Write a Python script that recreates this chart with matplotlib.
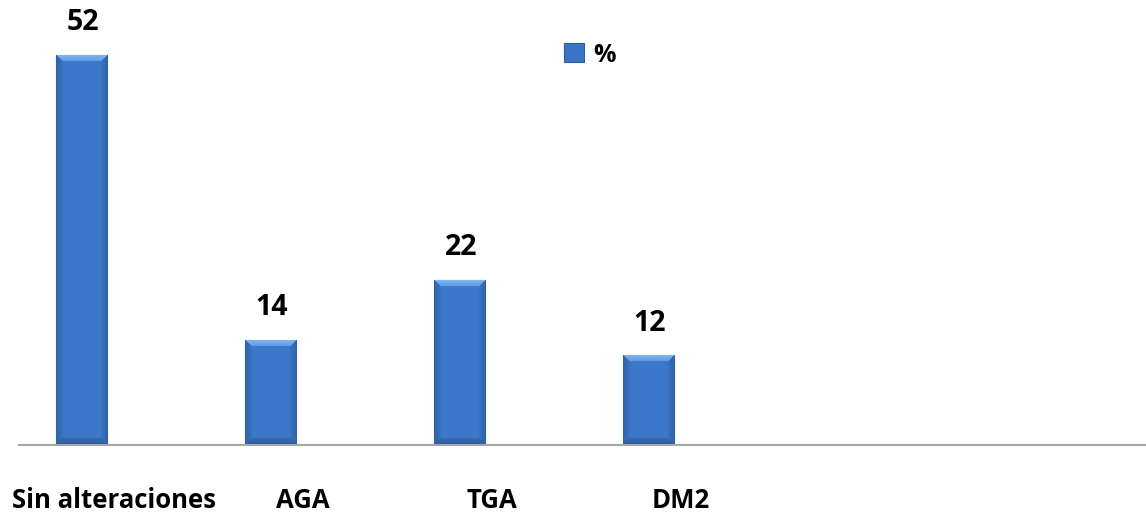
import numpy as np
import matplotlib.pyplot as plt
import matplotlib.transforms as mtransforms
from matplotlib.patches import Patch

# categories and percentages
categorias = ["Sin alteraciones", "AGA", "TGA", "DM2"]
porcentajes = [52, 14, 22, 12]
serie = "%"

plt.rcParams['font.family'] = ['Open Sans', 'DejaVu Sans']

W, H = 1146, 515
fig = plt.figure(figsize=(W / 100, H / 100), dpi=100)
# axes placed in pixel terms: baseline at y=445, left at x=19
ax = fig.add_axes([19 / W, (H - 445) / H, (W - 19) / W, 445 / H])

x = np.arange(len(categorias))
ancho = 0.27
ax.set_xlim(-0.331, 5.632)
ax.set_ylim(0, 59.3)

base = np.array([0.23, 0.46, 0.78])
bars = ax.bar(x, porcentajes, width=ancho, color=base, edgecolor='#2c5d9e',
              linewidth=0.8, zorder=2)


def bevel_image(wpx, hpx, b=7):
    # shaded bar face: light top bevel, darker sides and bottom
    img = np.zeros((hpx, wpx, 3))
    for i in range(hpx):
        for j in range(wpx):
            dl, dr = j, wpx - 1 - j
            dt, db = i, hpx - 1 - i
            dside = min(dl, dr)
            c = base.copy()
            if dt < b and dt <= dside:
                t = dt / b
                c = np.array([0.52, 0.72, 0.96]) * (1 - t) + np.array([0.36, 0.60, 0.88]) * t
            elif db < b and db <= dside:
                c = base * (0.80 + 0.1 * db / b)
            elif dside < b:
                c = base * (0.84 + 0.16 * dside / b)
            else:
                c = base * 1.02
            img[i, j] = np.clip(c, 0, 1)
    return img


for rect, v in zip(bars, porcentajes):
    x0, w = rect.get_x(), rect.get_width()
    hpx = int(round(v * 445 / 59.3))
    im = ax.imshow(bevel_image(51, hpx), extent=(x0, x0 + w, 0, v),
                   aspect='auto', zorder=2.5, interpolation='bilinear')
    im.set_clip_path(rect)
    ax.annotate(str(v), (x0 + w / 2, v), xytext=(1, 23), textcoords='offset points',
                ha='center', va='center', fontsize=20.5, fontweight='bold', color='black')

for s in ['top', 'right', 'left']:
    ax.spines[s].set_visible(False)
ax.spines['bottom'].set_color('#a6a6a6')
ax.spines['bottom'].set_linewidth(1.5)
ax.spines['bottom'].set_zorder(3)
ax.set_yticks([])

ax.set_xticks(x, categorias, fontsize=18.5, fontweight='bold')
ax.tick_params(axis='x', length=0, pad=30)
offset = mtransforms.ScaledTranslation(0.32, 0, fig.dpi_scale_trans)
for lab in ax.get_xticklabels():
    lab.set_transform(lab.get_transform() + offset)

handle = Patch(facecolor=base, edgecolor='#2c5d9e', linewidth=0.8)
fig.legend([handle], [serie], loc='center left',
           bbox_to_anchor=(541 / W, 1 - 55 / H), frameon=False,
           handlelength=0.8, handleheight=0.8,
           handletextpad=0.4, prop={'weight': 'bold', 'size': 18})

fig.savefig('out.png', dpi=100)
